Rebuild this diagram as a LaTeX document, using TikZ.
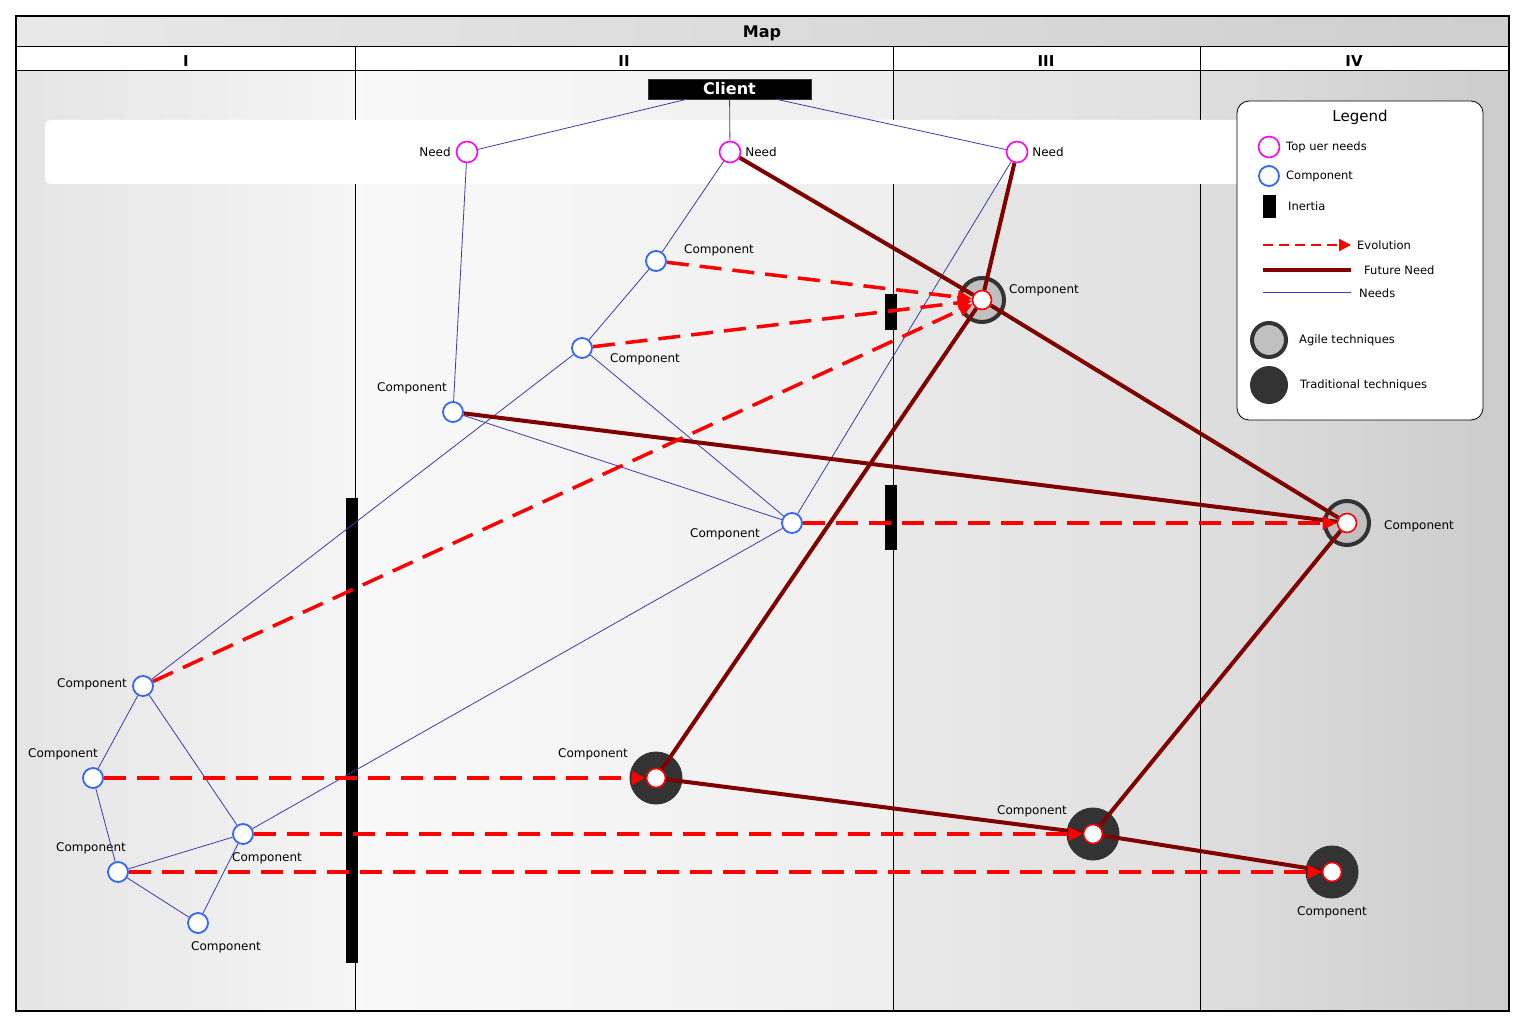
\documentclass[tikz,border=0pt]{standalone}
\usepackage{fontspec}
\setmainfont{DejaVu Sans}
\usetikzlibrary{arrows.meta,positioning}

\definecolor{needline}{RGB}{60,60,170}
\definecolor{futureneed}{RGB}{128,0,0}
\definecolor{compblue}{RGB}{51,102,255}
\definecolor{needpink}{RGB}{255,0,255}
\definecolor{agilefill}{RGB}{192,192,192}
\definecolor{darkdisk}{RGB}{51,51,51}

\tikzset{
  need/.style={circle, draw=needpink, line width=1.6pt, fill=white, minimum size=21pt, inner sep=0pt},
  comp/.style={circle, draw=compblue, line width=1.8pt, fill=white, minimum size=20pt, inner sep=0pt},
  futcomp/.style={circle, draw=red, line width=1.6pt, fill=white, minimum size=19pt, inner sep=0pt},
  agiledisk/.style={circle, draw=darkdisk, line width=4pt, fill=agilefill, minimum size=44pt, inner sep=0pt},
  tradisk/.style={circle, fill=darkdisk, minimum size=53pt, inner sep=0pt},
  inertia/.style={fill=black, inner sep=0pt, minimum width=12pt},
  lbl/.style={font=\fontsize{12}{14}\selectfont, inner sep=0pt},
  lgl/.style={font=\fontsize{11.5}{13}\selectfont, inner sep=0pt, anchor=west},
  colhead/.style={font=\bfseries\fontsize{15}{17}\selectfont, inner sep=0pt},
  needs/.style={draw=needline, line width=0.8pt},
  evolution/.style={draw=red, line width=3.5pt, dash pattern=on 22pt off 11pt,
    -{Triangle[length=14pt,width=13pt]}},
  future/.style={draw=futureneed, line width=4pt},
}

\begin{document}
\begin{tikzpicture}[x=1pt,y=-1pt]
  \useasboundingbox (0,0) rectangle (1525,1027);
  \fill[white] (0,0) rectangle (1525,1027);

  % columns of the map
  \shade[left color=gray!21, right color=gray!8] (16,70) rectangle (355,1011);
  \shade[left color=gray!5, middle color=white, right color=gray!13] (355,70) rectangle (893,1011);
  \shade[left color=gray!18, right color=gray!24] (893,70) rectangle (1200,1011);
  \shade[left color=gray!26, right color=gray!40] (1200,70) rectangle (1509,1011);
  \shade[left color=gray!18, middle color=white, right color=gray!38] (16,16) rectangle (1509,46);
  \fill[white] (16,46) rectangle (1509,70);
  \draw[line width=0.8pt] (355,46) -- (355,1011);
  \draw[line width=0.8pt] (893,46) -- (893,1011);
  \draw[line width=0.8pt] (1200,46) -- (1200,1011);
  \draw[line width=0.8pt] (16,46) -- (1509,46);
  \draw[line width=0.8pt] (16,70) -- (1509,70);
  \fill[white, rounded corners=5pt] (45,120) rectangle (1250,184);
  \draw[line width=2pt] (16,16) rectangle (1509,1011);

  \node[font=\bfseries\fontsize{16}{18}\selectfont, inner sep=0pt] (maptitle) at (762,33) {Map};
  \node[colhead] (colI) at (186,61) {I};
  \node[colhead] (colII) at (624,61) {II};
  \node[colhead] (colIII) at (1046,61) {III};
  \node[colhead] (colIV) at (1354,61) {IV};

  % inertia
  \node[inertia, minimum height=465pt] (inert1) at (352,730.5) {};
  \node[inertia, minimum height=36pt] (inert2) at (891,312) {};
  \node[inertia, minimum height=65pt] (inert3) at (891,517.5) {};

  % client and needs
  \node[fill=black, draw=darkdisk, minimum width=163pt, minimum height=20pt, inner sep=0pt,
    text=white, font=\bfseries\fontsize{16}{18}\selectfont] (client) at (729.5,89) {Client};
  \node[need] (n1) at (467,152) {};
  \node[need] (n2) at (730,152) {};
  \node[need] (n3) at (1017,152) {};
  \node[lbl] (n1l) at (435,152) {Need};
  \node[lbl] (n2l) at (761,152) {Need};
  \node[lbl] (n3l) at (1048,152) {Need};

  % future components
  \node[agiledisk] (f1d) at (982,300) {};
  \node[agiledisk] (f2d) at (1347,523) {};
  \node[tradisk] (f3d) at (656,778) {};
  \node[tradisk] (f4d) at (1093,834) {};
  \node[tradisk] (f5d) at (1332,872) {};
  \node[futcomp] (f1) at (982,300) {};
  \node[futcomp] (f2) at (1347,523) {};
  \node[futcomp] (f3) at (656,778) {};
  \node[futcomp] (f4) at (1093,834) {};
  \node[futcomp] (f5) at (1332,872) {};
  \node[lbl] (f1l) at (1044,290) {Component};
  \node[lbl] (f2l) at (1419,526) {Component};
  \node[lbl] (f3l) at (593,754) {Component};
  \node[lbl] (f4l) at (1032,811) {Component};
  \node[lbl] (f5l) at (1332,912) {Component};

  % components
  \node[comp] (c1) at (656,261) {};
  \node[comp] (c2) at (582,348) {};
  \node[comp] (c3) at (453,412) {};
  \node[comp] (c4) at (792,523) {};
  \node[comp] (c5) at (143,686) {};
  \node[comp] (c6) at (93,778) {};
  \node[comp] (c7) at (243,834) {};
  \node[comp] (c8) at (118,872) {};
  \node[comp] (c9) at (198,923) {};
  \node[lbl] (c1l) at (719,250) {Component};
  \node[lbl] (c2l) at (645,359) {Component};
  \node[lbl] (c3l) at (412,388) {Component};
  \node[lbl] (c4l) at (725,534) {Component};
  \node[lbl] (c5l) at (92,684) {Component};
  \node[lbl] (c6l) at (63,754) {Component};
  \node[lbl] (c7l) at (267,858) {Component};
  \node[lbl] (c8l) at (91,848) {Component};
  \node[lbl] (c9l) at (226,947) {Component};

  % needs
  \draw[needs] (client) -- (n1);
  \draw[needs] (client) -- (n2);
  \draw[needs] (client) -- (n3);
  \draw[needs] (n1) -- (c3);
  \draw[needs] (n2) -- (c1);
  \draw[needs] (c1) -- (c2);
  \draw[needs] (c2) -- (c5);
  \draw[needs] (c2) -- (c4);
  \draw[needs] (c3) -- (c4);
  \draw[needs] (n3) -- (c4);
  \draw[needs] (c4) -- (c7);
  \draw[needs] (c5) -- (c6);
  \draw[needs] (c5) -- (c7);
  \draw[needs] (c6) -- (c8);
  \draw[needs] (c8) -- (c7);
  \draw[needs] (c8) -- (c9);
  \draw[needs] (c9) -- (c7);

  % future needs
  \draw[future] (n2) -- (f1);
  \draw[future] (n3) -- (f1);
  \draw[future] (f1) -- (f2);
  \draw[future] (f1) -- (f3);
  \draw[future] (c3) -- (f2);
  \draw[future] (f2) -- (f4);
  \draw[future] (f3) -- (f4);
  \draw[future] (f4) -- (f5);

  % evolution
  \draw[evolution] (c1) -- (f1);
  \draw[evolution] (c2) -- (f1);
  \draw[evolution] (c5) -- (f1);
  \draw[evolution] (c4) -- (f2);
  \draw[evolution] (c6) -- (f3);
  \draw[evolution] (c7) -- (f4);
  \draw[evolution] (c8) -- (f5);

  % legend
  \draw[fill=white, line width=0.8pt, rounded corners=12pt] (1237,101) rectangle (1483,420);
  \node[font=\fontsize{15}{18}\selectfont, inner sep=0pt] (legtitle) at (1360,117) {Legend};
  \node[need] (legneed) at (1269,147) {};
  \node[lgl] (legneedt) at (1286,147) {Top uer needs};
  \node[comp] (legcomp) at (1269,176) {};
  \node[lgl] (legcompt) at (1286,176) {Component};
  \node[inertia, minimum width=13pt, minimum height=23pt] (leginert) at (1269.5,206.5) {};
  \node[lgl] (leginertt) at (1288,206) {Inertia};
  \coordinate (evoa) at (1263,245);
  \coordinate (evob) at (1351,245);
  \draw[evolution, line width=2pt, dash pattern=on 10pt off 6pt,
    -{Triangle[length=12pt,width=12pt]}] (evoa) -- (evob);
  \node[lgl] (legevot) at (1357,245) {Evolution};
  \coordinate (futa) at (1263,270);
  \coordinate (futb) at (1351,270);
  \draw[future, line width=4.5pt] (futa) -- (futb);
  \node[lgl] (legfutt) at (1364,270) {Future Need};
  \coordinate (neea) at (1263,292);
  \coordinate (neeb) at (1351,292);
  \draw[needs] (neea) -- (neeb);
  \node[lgl] (legneet) at (1359,293) {Needs};
  \node[agiledisk, minimum size=34pt] (legagile) at (1269,340) {};
  \node[lgl] (legagilet) at (1299,340) {Agile techniques};
  \node[tradisk, minimum size=38pt] (legtrad) at (1269,385) {};
  \node[lgl] (legtradt) at (1300,385) {Traditional techniques};
\end{tikzpicture}
\end{document}
